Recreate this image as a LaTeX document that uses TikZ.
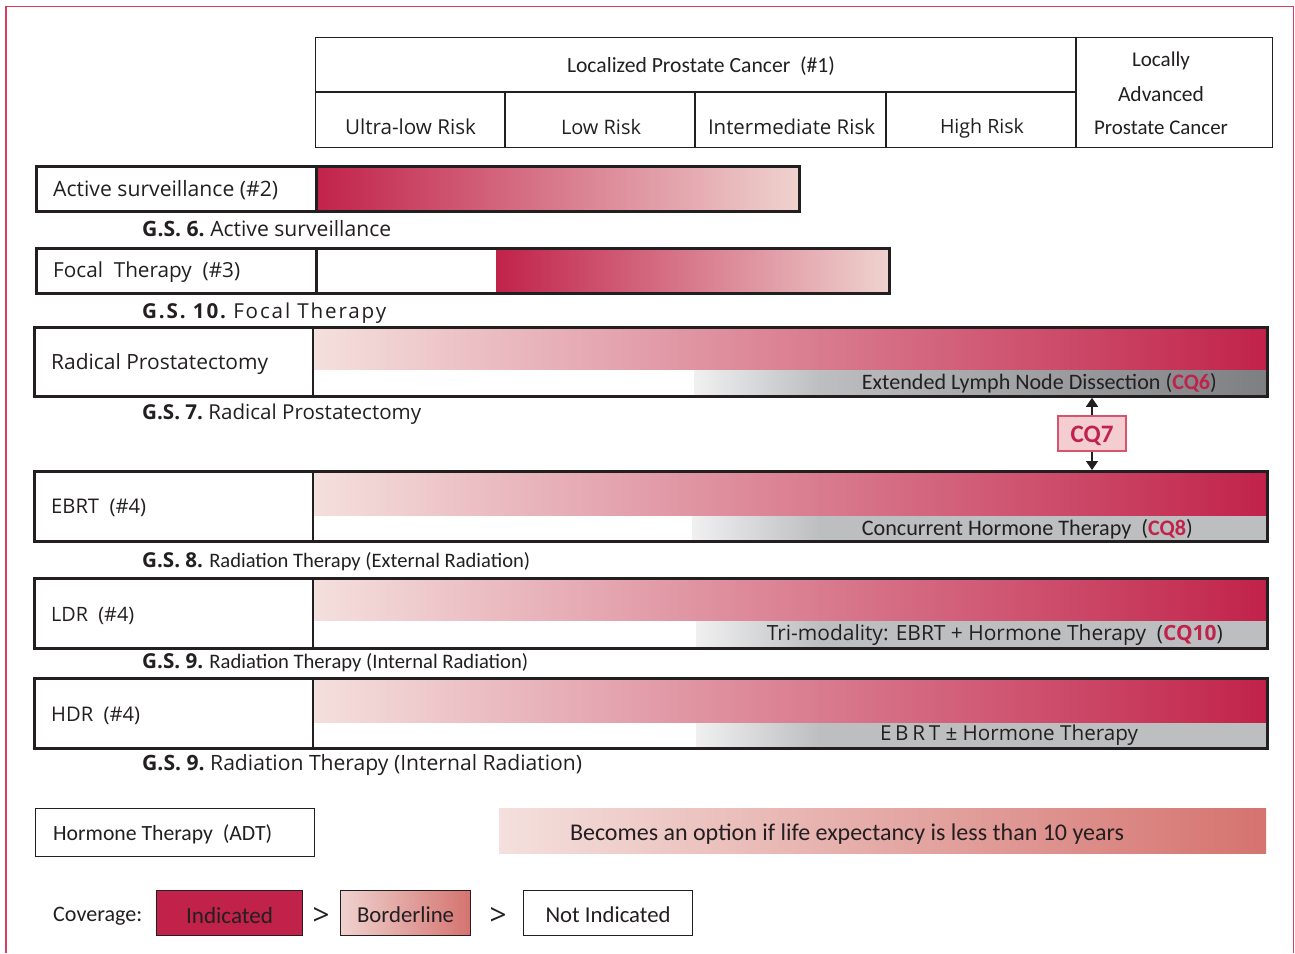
\documentclass[tikz,border=0pt]{standalone}
\usepackage{fontspec}
\setmainfont{Carlito}
\newfontfamily\os{Open Sans}
\usetikzlibrary{arrows.meta}
\definecolor{crim}{HTML}{C1224A}
\definecolor{lpink}{HTML}{EFD2CF}
\definecolor{vlpink}{HTML}{F4E0DD}
\definecolor{midred}{HTML}{D5736F}
\definecolor{ink}{HTML}{231F20}
\definecolor{framec}{HTML}{D63D60}
\definecolor{glight}{HTML}{F0F0F1}
\definecolor{gmid}{HTML}{BDBEC0}
\definecolor{gdark}{HTML}{7E7F82}
\definecolor{cqfill}{HTML}{F3CDD0}
\definecolor{cqedge}{HTML}{D9536C}
\newlength\fwl
\newcommand\fw[3]{\settowidth\fwl{#1\fontsize{10}{12}\selectfont #3}\pgfmathsetmacro\fwsz{10*#2/\fwl}{#1\fontsize{\fwsz}{\fwsz}\selectfont #3}}
\newcommand\cq[1]{\textcolor{crim}{\bfseries #1}}
\newcommand\rowbar[6]{%
  \shade[left color=vlpink, middle color=midred, right color=crim] (313,#2) rectangle (1266,#3);
  \fill[white] (313,#3) rectangle (#5,#4);
  \shade[left color=glight, right color=gmid] (#5,#3) rectangle (820,#4);
  \shade[left color=gmid, right color=#6] (820,#3) rectangle (1266,#4);
  \node[tbox, minimum width=1233, minimum height=#4-#2] (#1) at (33,#2) {};
  \draw[ink, line width=2.8pt] (313,#2) -- (313,#4);
}
\begin{document}
\begin{tikzpicture}[x=1pt,y=-1pt,
  every node/.style={text=ink, inner sep=0pt},
  tx/.style={yshift=-2pt},
  tbox/.style={draw=ink, line width=2.8pt, anchor=north west},
  thinbox/.style={draw=ink, line width=1.1pt, anchor=north west},
  lbl/.style={anchor=west, tx},
  arr/.style={ink, line width=1.3pt, -{Triangle[length=9pt,width=12pt]}}]
\useasboundingbox (0,0) rectangle (1295,953);
% frame
\draw[framec, line width=1.8pt] (6,953) -- (6,6.5) -- (1293.5,6.5) -- (1293.5,953);

% header table
\node[draw=ink, line width=1.3pt, anchor=north west, minimum width=957, minimum height=110] (hdr) at (315,37) {};
\draw[ink, line width=1.3pt] (315,92) -- (1076,92);
\draw[ink, line width=1.3pt] (1076,37) -- (1076,147);
\draw[ink, line width=1.3pt] (505,92) -- (505,147);
\draw[ink, line width=1.3pt] (695,92) -- (695,147);
\draw[ink, line width=1.3pt] (886,92) -- (886,147);
\node[tx] (hloc) at (701,64) {\fw{}{268}{Localized Prostate Cancer\ \ (\#1)}};
\node[tx] (hul) at (410.5,125) {\fw{\os}{131}{Ultra-low Risk}};
\node[tx] (hlow) at (601,125) {\fw{\os}{80}{Low Risk}};
\node[tx] (hint) at (791.5,125) {\fw{\os}{167}{Intermediate Risk}};
\node[tx] (hhigh) at (982,126) {\fw{\os}{84}{High Risk}};
\node[tx] (hla1) at (1161,59) {\fw{}{58}{Locally}};
\node[tx] (hla2) at (1161,92) {\fw{}{86}{Advanced}};
\node[tx] (hla3) at (1161,126) {\fw{}{134}{Prostate Cancer}};

% row 1: active surveillance
\node[tbox, minimum width=280, minimum height=45] (asl) at (35,165) {};
\node[tbox, minimum width=483, minimum height=45, left color=crim, middle color=midred, right color=lpink] (asb) at (315,165) {};
\node[lbl] (ast) at (53,188) {\fw{\os}{225}{Active surveillance (\#2)}};
\node[lbl] (asc) at (142,227) {\fw{\os}{249}{\bfseries G.S. 6.\mdseries\ Active surveillance}};

% row 2: focal therapy
\node[tbox, minimum width=280, minimum height=45] (ftl) at (35,247) {};
\shade[left color=crim, middle color=midred, right color=lpink] (496,247) rectangle (888,292);
\node[tbox, minimum width=573, minimum height=45] (ftb) at (315,247) {};
\node[lbl] (ftt) at (53,270) {\fw{\os}{187}{Focal\ \ Therapy\ \ (\#3)}};
\node[lbl] (ftc) at (142,311) {\fw{\os\addfontfeature{LetterSpace=9}}{244}{\bfseries G.S. 10.\mdseries\ Focal Therapy}};

% row 3: radical prostatectomy
\rowbar{rp}{326}{370}{395}{694}{gdark}
\node[lbl] (rpt) at (51,362) {\fw{\os}{217}{Radical Prostatectomy}};
\node[anchor=east, tx] (rps) at (1217,381) {\fw{}{355}{Extended Lymph Node Dissection (\cq{CQ6})}};
\node[lbl] (rpc) at (142,412) {\fw{\os}{279}{\bfseries G.S. 7.\mdseries\ Radical Prostatectomy}};

% row 4: EBRT
\rowbar{eb}{470}{516}{540}{692}{gmid}
\node[lbl] (ebt) at (51,506) {\fw{\os}{95}{EBRT\ \ (\#4)}};
\node[anchor=east, tx] (ebs) at (1193,527) {\fw{}{331}{Concurrent Hormone Therapy\ \ (\cq{CQ8})}};
\node[lbl] (ebc) at (142,560) {\fw{}{388}{{\os\bfseries G.S. 8.} Radiation Therapy (External Radiation)}};

% CQ7
\node[draw=cqedge, fill=cqfill, line width=1.2pt, minimum width=68, minimum height=35] (cq7) at (1092,433.5) {};
\node[tx] (cq7t) at (cq7.center) {\fw{}{43}{\cq{CQ7}}};
\draw[arr] (cq7.north) -- (cq7.north |- rp.south);
\draw[arr] (cq7.south) -- (cq7.south |- eb.north);

% row 5: LDR
\rowbar{ldr}{577}{621}{647}{696}{gmid}
\node[lbl] (ldt) at (51,614) {\fw{\os}{83}{LDR\ \ (\#4)}};
\node[anchor=east, tx] (lds) at (1223,633) {\fw{\os}{456}{Tri-modality: EBRT + Hormone Therapy\ \ (\cq{CQ10})}};
\node[lbl] (ldc) at (142,661) {\fw{}{386}{{\os\bfseries G.S. 9.} Radiation Therapy (Internal Radiation)}};

% row 6: HDR
\rowbar{hdr}{677}{723}{747}{696}{gmid}
\node[lbl] (hdt) at (51,714) {\fw{\os}{89}{HDR\ \ (\#4)}};
\node[tx] (hds) at (1009,733) {\fw{\os}{258}{{\addfontfeature{LetterSpace=18}EBRT} ± Hormone Therapy}};
\node[lbl] (hdc) at (142,763) {\fw{\os}{440}{\bfseries G.S. 9.\mdseries\ Radiation Therapy (Internal Radiation)}};

% hormone therapy
\node[thinbox, minimum width=279, minimum height=48] (adt) at (35,808) {};
\node[lbl] (adtt) at (53,832) {\fw{}{219}{Hormone Therapy\ \ (ADT)}};
\node[anchor=north west, minimum width=767, minimum height=45, left color=vlpink, right color=midred] (opt) at (499,808) {};
\node[tx] (optt) at (847,832) {\fw{}{554}{Becomes an option if life expectancy is less than 10 years}};

% coverage legend
\node[lbl] (cov) at (53,914) {\fw{}{89}{Coverage:}};
\node[thinbox, fill=crim, minimum width=146, minimum height=45] (ind) at (156,890) {};
\node[tx] (indt) at (ind.center) {\fw{}{87}{Indicated}};
\node (gt1) at (321,916) {\fw{\os}{17}{>}};
\node[thinbox, left color=lpink, right color=midred, minimum width=130, minimum height=45] (bor) at (340,890) {};
\node[tx] (bort) at (bor.center) {\fw{}{97}{Borderline}};
\node (gt2) at (498,916) {\fw{\os}{17}{>}};
\node[thinbox, minimum width=169, minimum height=45] (notind) at (523,890) {};
\node[tx] (nott) at (notind.center) {\fw{}{125}{Not Indicated}};
\end{tikzpicture}
\end{document}
